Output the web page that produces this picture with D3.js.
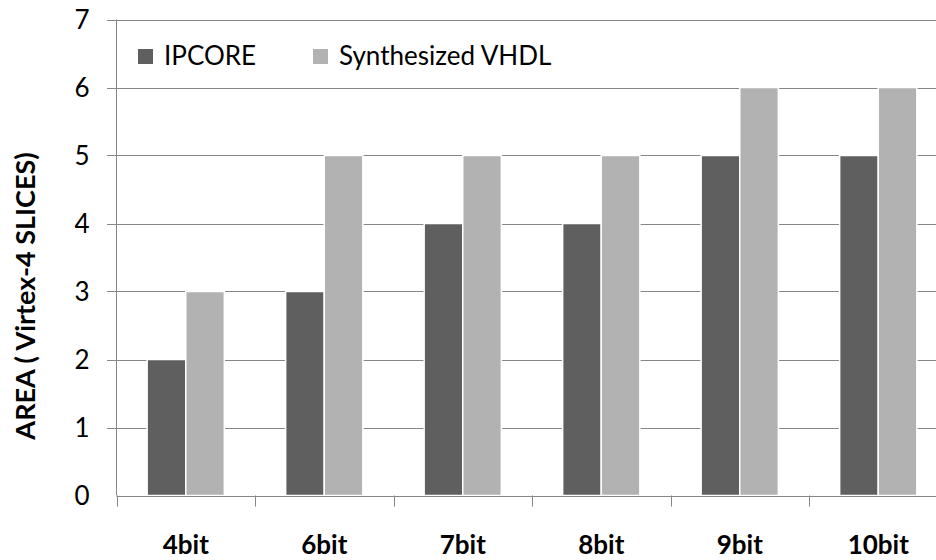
<!DOCTYPE html>
<html>
<head>
<meta charset="utf-8">
<script src="https://cdn.jsdelivr.net/npm/d3@7"></script>
<style>
  html, body { margin: 0; padding: 0; background: #fff; }
  svg { display: block; }
  text { font-family: Lato, "Open Sans", sans-serif; fill: #000; }
</style>
</head>
<body>
<svg id="chart" width="936" height="560"></svg>
<script>
// Area usage per word width, IP core vs synthesized VHDL
const categories = ["4bit", "6bit", "7bit", "8bit", "9bit", "10bit"];
const seriesNames = ["IPCORE", "Synthesized VHDL"];
const ipcore = [2, 3, 4, 4, 5, 5];
const synthVhdl = [3, 5, 5, 5, 6, 6];
const yTicks = [0, 1, 2, 3, 4, 5, 6, 7];
const colors = ["#5f5f5f", "#b2b2b2"];

const svg = d3.select("#chart");
const plotLeft = 116.5, bandW = 138.5, plotTop = 19.5, plotBottom = 495.5;
const plotRight = plotLeft + bandW * categories.length;

const x = d3.scaleBand().domain(categories).range([plotLeft, plotRight]).padding(0);
const y = d3.scaleLinear().domain([0, 7]).range([plotBottom, plotTop]);
const barW = 38.6;
const x1 = d3.scaleBand().domain(seriesNames)
  .range([x.bandwidth() / 2 - barW, x.bandwidth() / 2 + barW]).padding(0);

// horizontal gridlines with left tick stubs
svg.append("g").selectAll("line").data(yTicks.filter(d => d > 0)).join("line")
  .attr("x1", 107).attr("x2", 936)
  .attr("y1", d => Math.round(y(d)) + 0.5).attr("y2", d => Math.round(y(d)) + 0.5)
  .attr("stroke", "#868686").attr("stroke-width", 1);

// y axis labels
const yAxis = d3.axisLeft(y).tickValues(yTicks).tickSize(0).tickPadding(0).tickFormat(d3.format("d"));
const gy = svg.append("g").attr("transform", `translate(${plotLeft - 27},0)`).call(yAxis);
gy.select(".domain").remove();
gy.selectAll("text").attr("font-size", 26).attr("font-family", "Lato, sans-serif")
  .attr("dy", "0.36em").attr("fill", "#000");

// y axis line
svg.append("line").attr("x1", plotLeft).attr("x2", plotLeft).attr("y1", plotTop).attr("y2", plotBottom)
  .attr("stroke", "#868686");

// bars
const data = categories.map((c, i) => ({ cat: c, vals: [ipcore[i], synthVhdl[i]] }));
const groups = svg.append("g").selectAll("g").data(data).join("g")
  .attr("transform", d => `translate(${x(d.cat)},0)`);
groups.selectAll("rect").data(d => d.vals.map((v, j) => ({ v, s: seriesNames[j], j })))
  .join("rect")
  .attr("x", d => x1(d.s))
  .attr("width", x1.bandwidth())
  .attr("y", d => y(d.v))
  .attr("height", d => y(0) - y(d.v))
  .attr("fill", d => colors[d.j])
  .attr("stroke", "#ffffff").attr("stroke-width", 1.5);

// x axis line and category ticks
svg.append("line").attr("x1", plotLeft).attr("x2", 936)
  .attr("y1", Math.round(plotBottom) + 0.5).attr("y2", Math.round(plotBottom) + 0.5)
  .attr("stroke", "#868686");
const xAxis = d3.axisBottom(x).tickSize(0).tickPadding(0);
const gx = svg.append("g").attr("transform", `translate(0,${plotBottom})`).call(xAxis);
gx.select(".domain").remove();
gx.selectAll("text").attr("font-size", 26).attr("font-weight", "bold")
  .attr("font-family", "Lato, sans-serif").attr("y", 58).attr("dy", 0).attr("fill", "#000");
svg.append("g").selectAll("line").data(d3.range(categories.length + 1)).join("line")
  .attr("x1", i => Math.round(plotLeft + i * x.bandwidth()) + 0.5)
  .attr("x2", i => Math.round(plotLeft + i * x.bandwidth()) + 0.5)
  .attr("y1", plotBottom).attr("y2", plotBottom + 11)
  .attr("stroke", "#868686");

// y axis title
svg.append("text")
  .attr("transform", "translate(35,296) rotate(-90)")
  .attr("text-anchor", "middle")
  .attr("font-size", 27).attr("font-weight", "bold")
  .text("AREA ( Virtex-4 SLICES)");

// legend
const legendX = [138, 313];
const leg = svg.append("g").selectAll("g").data(seriesNames).join("g")
  .attr("transform", (d, i) => `translate(${legendX[i]},49)`);
leg.append("rect").attr("width", 15).attr("height", 15)
  .attr("fill", (d, i) => colors[i]);
leg.append("text").attr("x", 26).attr("y", 16).attr("font-size", 26).text(d => d);
</script>
</body>
</html>
